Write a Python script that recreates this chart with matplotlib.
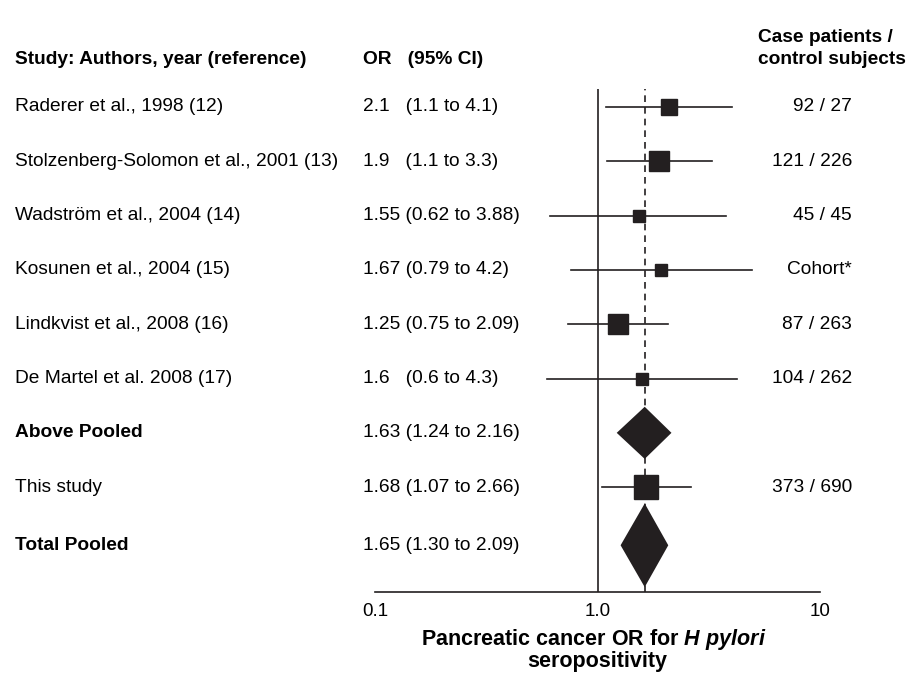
import matplotlib
matplotlib.use("Agg")
import matplotlib.pyplot as plt
from matplotlib.transforms import blended_transform_factory

plt.rcParams['font.family'] = ['Liberation Sans', 'DejaVu Sans']
plt.rcParams['mathtext.fontset'] = 'custom'
plt.rcParams['mathtext.it'] = 'Liberation Sans:italic:bold'
plt.rcParams['mathtext.rm'] = 'Liberation Sans:bold'

# Study rows (text columns)
studies = ['Raderer et al., 1998 (12)', 'Stolzenberg-Solomon et al., 2001 (13)',
           'Wadström et al., 2004 (14)', 'Kosunen et al., 2004 (15)',
           'Lindkvist et al., 2008 (16)', 'De Martel et al. 2008 (17)',
           'Above Pooled', 'This study', 'Total Pooled']
or_text = ['2.1   (1.1 to 4.1)', '1.9   (1.1 to 3.3)', '1.55 (0.62 to 3.88)',
           '1.67 (0.79 to 4.2)', '1.25 (0.75 to 2.09)', '1.6   (0.6 to 4.3)',
           '1.63 (1.24 to 2.16)', '1.68 (1.07 to 2.66)', '1.65 (1.30 to 2.09)']
cases = ['92 / 27', '121 / 226', '45 / 45', 'Cohort*', '87 / 263', '104 / 262',
         '', '373 / 690', '']
bold_rows = ['Above Pooled', 'Total Pooled']

# Plotted estimates (read from the marks)
sq_rows = [0, 1, 2, 3, 4, 5, 7]
sq_est = [2.1, 1.88, 1.54, 1.92, 1.23, 1.59, 1.66]
sq_lo = [1.09, 1.10, 0.61, 0.76, 0.74, 0.59, 1.05]
sq_hi = [4.03, 3.28, 3.79, 4.95, 2.08, 4.24, 2.64]
sq_size = [11.5, 13.7, 8.6, 8.6, 15.1, 8.6, 17.3]

dia_rows = [6, 8]
dia_est = [1.63, 1.63]
dia_lo = [1.22, 1.27]
dia_hi = [2.15, 2.08]
dia_half = [0.48, 0.77]

pooled = 1.63
ypos = [1, 2, 3, 4, 5, 6, 7, 8, 9.07]

col = '#231f20'
W, H = 910, 673
fig = plt.figure(figsize=(W / 100, H / 100), dpi=100)
ax = fig.add_axes([375 / W, 1 - 592 / H, (820 - 375) / W, (592 - 89) / H])
ax.set_xscale('log')
ax.set_xlim(0.1, 10)
ax.set_ylim(9.93, 0.67)

ax.axvline(1, color=col, lw=1.2, zorder=1)
ax.axvline(pooled, color=col, lw=1.2, ls=(0, (4, 3)), zorder=1)

for i, r in enumerate(sq_rows):
    y = ypos[r]
    ax.plot([sq_lo[i], sq_hi[i]], [y, y], color=col, lw=1.2, zorder=2)
    ax.plot(sq_est[i], y, marker='s', ms=sq_size[i], color=col, mec=col, zorder=3)

for i, r in enumerate(dia_rows):
    y = ypos[r]
    ax.fill([dia_lo[i], dia_est[i], dia_hi[i], dia_est[i]],
            [y, y - dia_half[i], y, y + dia_half[i]], color=col, lw=0, zorder=3)

for s in ['top', 'right', 'left']:
    ax.spines[s].set_visible(False)
ax.spines['bottom'].set_color(col)
ax.spines['bottom'].set_linewidth(1.2)
ax.set_yticks([])
ax.set_xticks([0.1, 1, 10])
ax.set_xticklabels(['0.1', '1.0', '10'])
ax.xaxis.set_minor_locator(matplotlib.ticker.NullLocator())
ax.tick_params(axis='x', length=0, pad=8, labelsize=13.6, colors='black')

tr = blended_transform_factory(fig.transFigure, ax.transData)
fs = 13.8
for i, name in enumerate(studies):
    y = ypos[i]
    w = 'bold' if name in bold_rows else 'normal'
    fig.text(15 / W, y, name, transform=tr, fontsize=fs, fontweight=w, va='center')
    fig.text(363 / W, y, or_text[i], transform=tr, fontsize=fs, va='center')
    if cases[i]:
        fig.text(852 / W, y, cases[i], transform=tr, fontsize=fs, va='center', ha='right')

fig.text(15 / W, 1 - 60 / H, 'Study: Authors, year (reference)', fontsize=fs,
         fontweight='bold', va='center')
fig.text(363 / W, 1 - 60 / H, 'OR   (95% CI)', fontsize=fs, fontweight='bold', va='center')
fig.text(758 / W, 1 - 38 / H, 'Case patients /', fontsize=fs, fontweight='bold', va='center')
fig.text(758 / W, 1 - 60 / H, 'control subjects', fontsize=fs, fontweight='bold', va='center')

fig.text(594 / W, 1 - 640 / H, r'Pancreatic cancer OR for $H\ pylori$', fontsize=15.5,
         fontweight='bold', ha='center', va='center')
fig.text(597 / W, 1 - 662 / H, 'seropositivity', fontsize=15.5, fontweight='bold',
         ha='center', va='center')

fig.savefig('out.png', dpi=100)
